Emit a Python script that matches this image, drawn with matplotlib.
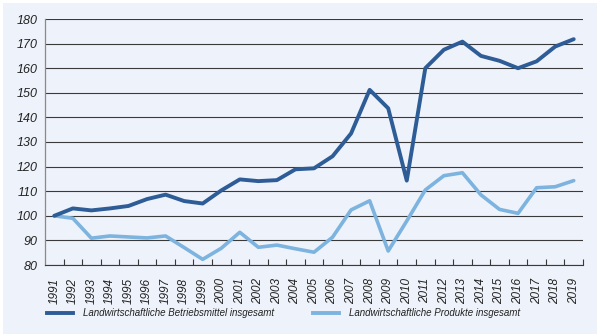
import matplotlib.pyplot as plt
from matplotlib.patches import Rectangle

plt.rcParams["font.family"] = ["Liberation Sans Narrow", "Liberation Sans", "DejaVu Sans"]

# Indexreihen (1991 = 100)
jahre = [str(j) for j in range(1991, 2020)]
betriebsmittel = [100, 103, 102.2, 103, 104, 106.8, 108.6, 106, 105, 110.3,
                  114.8, 114.1, 114.5, 118.9, 119.3, 124.2, 133.5, 151.2, 143.7, 114.3,
                  160, 167.5, 170.8, 165, 163, 160, 162.8, 168.8, 171.8]
produkte = [100, 99, 90.9, 91.8, 91.4, 91.0, 91.8, 87.1, 82.3, 86.8,
            93.3, 87.2, 88.1, 86.6, 85.2, 91.3, 102.4, 106.1, 85.7, 97.9,
            110.5, 116.3, 117.5, 108.5, 102.6, 101.0, 111.4, 111.8, 114.3]
legende = ["Landwirtschaftliche Betriebsmittel insgesamt",
           "Landwirtschaftliche Produkte insgesamt"]

dunkel = "#2d5c96"
hell = "#7db3df"
grund = "#eef2fa"

fig = plt.figure(figsize=(6, 3.34), dpi=100, facecolor="white")
fig.patches.append(Rectangle((3 / 600, 0), 594 / 600, 331 / 334,
                             transform=fig.transFigure, facecolor=grund,
                             edgecolor="none", zorder=-10))

ax = fig.add_axes([45 / 600, 1 - 265 / 334, 538 / 600, 246 / 334])
ax.set_facecolor(grund)

x = list(range(len(jahre)))
ax.plot(x, produkte, color=hell, lw=2.6, solid_capstyle="round", zorder=3)
ax.plot(x, betriebsmittel, color=dunkel, lw=2.8, solid_capstyle="round", zorder=4)

ax.set_xlim(-0.5, len(jahre) - 0.5)
ax.set_ylim(80, 180)
ax.set_yticks(range(80, 181, 10))
ax.grid(axis="y", color="#3a3a3a", lw=0.8)
ax.set_axisbelow(True)

for s in ["top", "right"]:
    ax.spines[s].set_visible(False)
ax.spines["left"].set_color("#8a8a8a")
ax.spines["left"].set_linewidth(0.9)
ax.spines["bottom"].set_color("#3a3a3a")
ax.spines["bottom"].set_linewidth(0.8)

ax.set_xticks(x)
ax.set_xticklabels(jahre, rotation=90, fontsize=8.5, style="italic", color="#222222")
ax.tick_params(axis="x", which="major", length=0, pad=9.5)
ax.set_xticks([i + 0.5 for i in x], minor=True)
ax.tick_params(axis="x", which="minor", direction="in", length=4.5,
               width=0.8, color="#3a3a3a")
ax.tick_params(axis="y", length=0, pad=5, labelsize=9, labelcolor="#222222")
for t in ax.get_yticklabels():
    t.set_style("italic")

# Legende unter dem Diagramm
for x0, farbe, text in [(47, dunkel, legende[0]), (313, hell, legende[1])]:
    fig.add_artist(plt.Line2D([x0 / 600, (x0 + 26) / 600], [1 - 313 / 334] * 2,
                              color=farbe, lw=2.8, transform=fig.transFigure))
    fig.text((x0 + 36) / 600, 1 - 313 / 334, text, fontsize=7, style="italic",
             color="#222222", va="center", ha="left")

fig.savefig("out.png", dpi=100, facecolor="white")
